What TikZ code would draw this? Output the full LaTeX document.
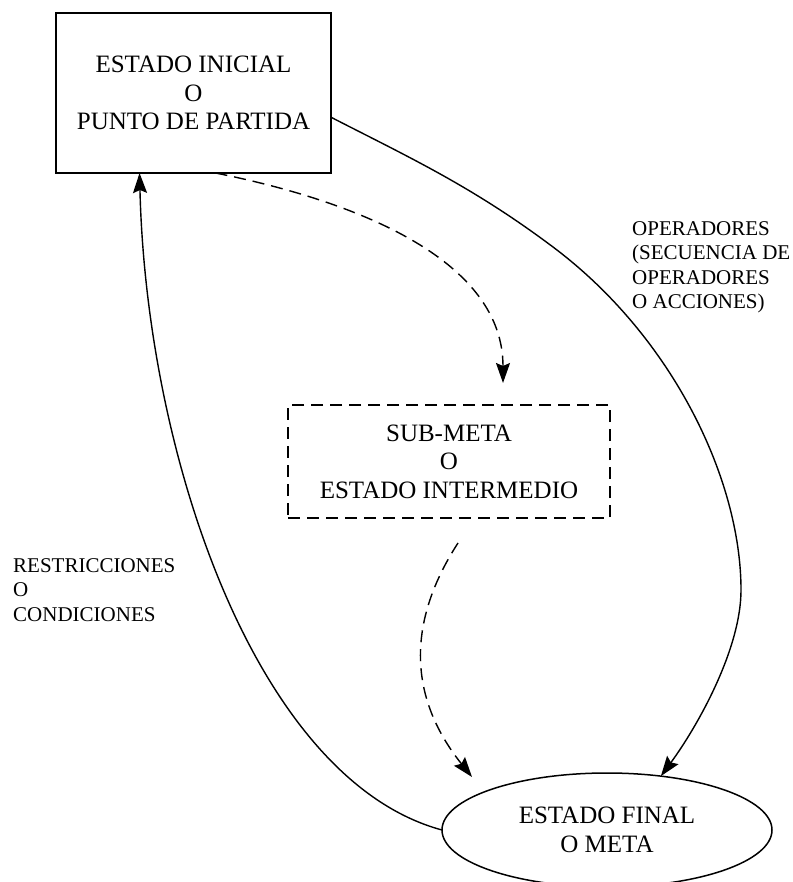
\documentclass[tikz,border=0pt]{standalone}
\usepackage{fontspec}
\setmainfont{Liberation Serif}
\usetikzlibrary{positioning,shapes.geometric,arrows.meta}

\begin{document}
\begin{tikzpicture}[x=1pt,y=-1pt,
  estado/.style={draw,line width=1.5pt,align=center,inner sep=0pt,outer sep=0pt,
    font=\fontsize{25}{28.5}\selectfont},
  etiqueta/.style={align=left,anchor=north west,inner sep=0pt,
    font=\fontsize{21}{24.5}\selectfont},
  flecha/.style={line width=1.4pt,-{Stealth[length=20pt,width=14pt,inset=3pt]}},
  tramos/.style={dash pattern=on 12pt off 7pt}]
\useasboundingbox (0,0) rectangle (792,882);
% estados
\node[estado,line width=2pt,minimum width=275pt,minimum height=160pt] (ini) at (193.5,93)
    {ESTADO INICIAL\\O\\PUNTO DE PARTIDA};
\node[estado,tramos,minimum width=322pt,minimum height=113pt] (sub) at (449,461.5)
    {SUB-META\\O\\ESTADO INTERMEDIO};
\node[estado,ellipse,minimum width=330pt,minimum height=114pt] (fin) at (607,830)
    {ESTADO FINAL\\O META};
% etiquetas
\node[etiqueta] (ops) at (632,221) {OPERADORES\\(SECUENCIA DE\\OPERADORES\\O ACCIONES)};
\node[etiqueta] (res) at (13,558) {RESTRICCIONES\\O\\CONDICIONES};
% puntos libres
\coordinate (codo) at (553,247);
\coordinate (giro) at (741,590);
\coordinate (subarriba) at (503,383);
\coordinate (subabajo) at (458,543);
\coordinate (finarriba) at (472,777);
% flechas
\draw[flecha] (ini.-10) .. controls +(80,41) and +(-80,-60) .. (codo)
    .. controls +(120,90) and +(0,-110) .. (giro)
    .. controls +(0,60) and +(35.4,-48) .. (fin.45);
\draw[flecha,tramos] ([xshift=22pt]ini.south) .. controls +(150,30) and +(0,-120) .. (subarriba);
\draw[flecha,tramos] (subabajo) .. controls +(-55,85) and +(-60,-75) .. (finarriba);
\draw[flecha] (fin.west) .. controls +(-185,-50) and +(7,285) .. (ini.-124);
\end{tikzpicture}
\end{document}
